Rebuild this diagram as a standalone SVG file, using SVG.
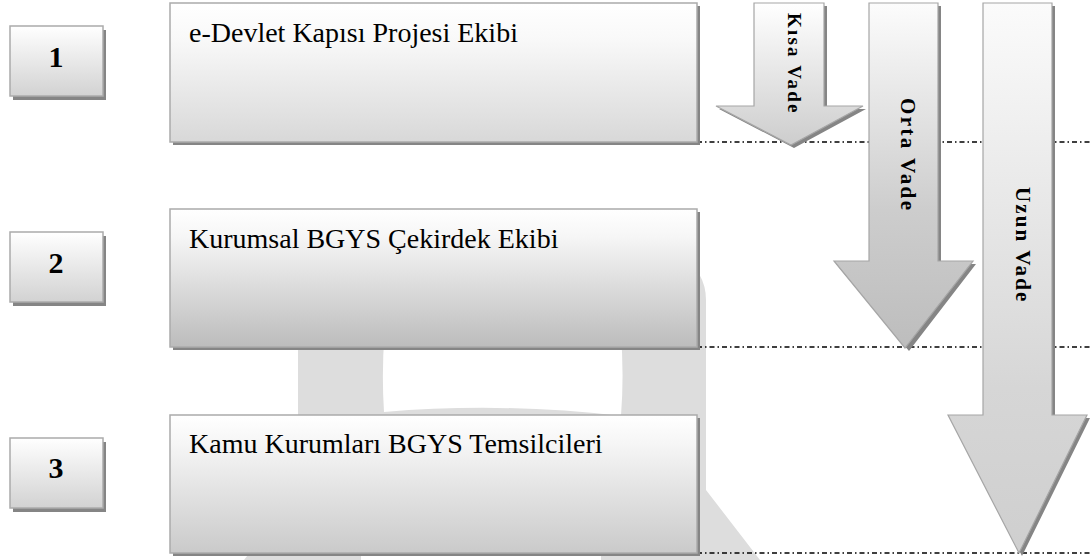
<svg xmlns="http://www.w3.org/2000/svg" width="1092" height="560" viewBox="0 0 1092 560">
<defs>
<style>
.num{font-family:"Liberation Serif","Times New Roman",serif;font-weight:bold;font-size:30px;fill:#000;text-anchor:middle}
.lbl{font-family:"Liberation Serif","Times New Roman",serif;font-size:28px;fill:#000}
.vt{font-family:"Liberation Serif","Times New Roman",serif;font-weight:bold;fill:#000}
.box{stroke:#ababab;stroke-width:1.5}
.shd{fill:#858585}
.arr{stroke:#a6a6a6;stroke-width:1.2}
.dd{stroke:#000;stroke-width:1.4;stroke-dasharray:5 3 1.5 3;fill:none}
</style>
<linearGradient id="gNum" x1="0" y1="0" x2="0" y2="1"><stop offset="0" stop-color="#ffffff"/><stop offset="1" stop-color="#d2d2d2"/></linearGradient>
<linearGradient id="gA" x1="0" y1="0" x2="0" y2="1"><stop offset="0" stop-color="#ffffff"/><stop offset="0.25" stop-color="#f9f9f9"/><stop offset="1" stop-color="#d8d8d8"/></linearGradient>
<linearGradient id="gB" x1="0" y1="0" x2="0" y2="1"><stop offset="0" stop-color="#ffffff"/><stop offset="0.2" stop-color="#f6f6f6"/><stop offset="1" stop-color="#bcbcbc"/></linearGradient>
<linearGradient id="gC" x1="0" y1="0" x2="0" y2="1"><stop offset="0" stop-color="#ffffff"/><stop offset="0.2" stop-color="#f6f6f6"/><stop offset="1" stop-color="#cacaca"/></linearGradient>
<linearGradient id="gK" x1="0" y1="0" x2="0" y2="1"><stop offset="0" stop-color="#ffffff"/><stop offset="1" stop-color="#cdcdcd"/></linearGradient>
<linearGradient id="gO" x1="0" y1="0" x2="0" y2="1"><stop offset="0" stop-color="#fcfcfc"/><stop offset="0.6" stop-color="#cdcdcd"/><stop offset="1" stop-color="#bdbdbd"/></linearGradient>
<linearGradient id="gU" x1="0" y1="0" x2="0" y2="1"><stop offset="0" stop-color="#fbfbfb"/><stop offset="0.7" stop-color="#d6d6d6"/><stop offset="1" stop-color="#cfcfcf"/></linearGradient>
</defs>
<rect width="1092" height="560" fill="#ffffff"/>
<g id="watermark">
<path d="M244 560 L298 490 L298 300 Q298 222 502 222 Q706 222 706 300 L706 490 L760 560 Z" fill="#dddddd"/>
<path d="M384 412 Q380 350 390 290 L615 290 Q626 350 621 416 Q502 402 384 412 Z" fill="#ffffff"/>
<rect x="361" y="530" width="240" height="30" fill="#ffffff"/>
</g>
<g id="connectors">
<line class="dd" x1="697" y1="142" x2="1092" y2="142"/>
<line class="dd" x1="697" y1="347" x2="1092" y2="347"/>
<line class="dd" x1="697" y1="553" x2="1092" y2="553"/>
</g>
<g id="num1">
<rect class="shd" x="13" y="30" width="93" height="70"/>
<rect class="box" x="10" y="26" width="93" height="70" fill="url(#gNum)" stroke="#c4c4c4"/>
<text class="num" x="56" y="67">1</text>
</g>
<g id="num2">
<rect class="shd" x="13" y="236" width="93" height="70"/>
<rect class="box" x="10" y="232" width="93" height="70" fill="url(#gNum)" stroke="#c4c4c4"/>
<text class="num" x="56" y="273">2</text>
</g>
<g id="num3">
<rect class="shd" x="13" y="442" width="93" height="70"/>
<rect class="box" x="10" y="438" width="93" height="70" fill="url(#gNum)" stroke="#c4c4c4"/>
<text class="num" x="56" y="478">3</text>
</g>
<g id="team1">
<rect class="shd" x="173" y="6" width="527" height="139"/>
<rect class="box" x="170" y="3" width="527" height="139" fill="url(#gA)" stroke="#c2c2c2"/>
<text class="lbl" x="189" y="42">e-Devlet Kapısı Projesi Ekibi</text>
</g>
<g id="team2">
<rect class="shd" x="173" y="212" width="527" height="138"/>
<rect class="box" x="170" y="209" width="527" height="138" fill="url(#gB)"/>
<text class="lbl" x="189" y="248">Kurumsal BGYS Çekirdek Ekibi</text>
</g>
<g id="team3">
<rect class="shd" x="173" y="418" width="527" height="138"/>
<rect class="box" x="170" y="415" width="527" height="138" fill="url(#gC)"/>
<text class="lbl" x="189" y="453">Kamu Kurumları BGYS Temsilcileri</text>
</g>
<g id="arrow-kisa">
<path class="shd" d="M757 6 L827 6 L827 109 L866 109 L794 148 L719 109 L757 109 Z"/>
<path class="arr" d="M754 3 L824 3 L824 106 L863 106 L791 145 L716 106 L754 106 Z" fill="url(#gK)"/>
<text class="vt" font-size="19" letter-spacing="2.2" transform="translate(788,13) rotate(90)">Kısa Vade</text>
</g>
<g id="arrow-orta">
<path class="shd" d="M872 6 L941 6 L941 264 L976 264 L909 351 L836 264 L872 264 Z"/>
<path class="arr" d="M869 3 L938 3 L938 261 L973 261 L905 348 L834 261 L869 261 Z" fill="url(#gO)"/>
<text class="vt" font-size="21" letter-spacing="2.4" transform="translate(901,98) rotate(90)">Orta Vade</text>
</g>
<g id="arrow-uzun">
<path class="shd" d="M986 6 L1055 6 L1055 418 L1090 418 L1022 556 L951 418 L986 418 Z"/>
<path class="arr" d="M983 3 L1052 3 L1052 415 L1087 415 L1019 553 L948 415 L983 415 Z" fill="url(#gU)"/>
<text class="vt" font-size="21" letter-spacing="2.1" transform="translate(1016,187) rotate(90)">Uzun Vade</text>
</g>
</svg>
